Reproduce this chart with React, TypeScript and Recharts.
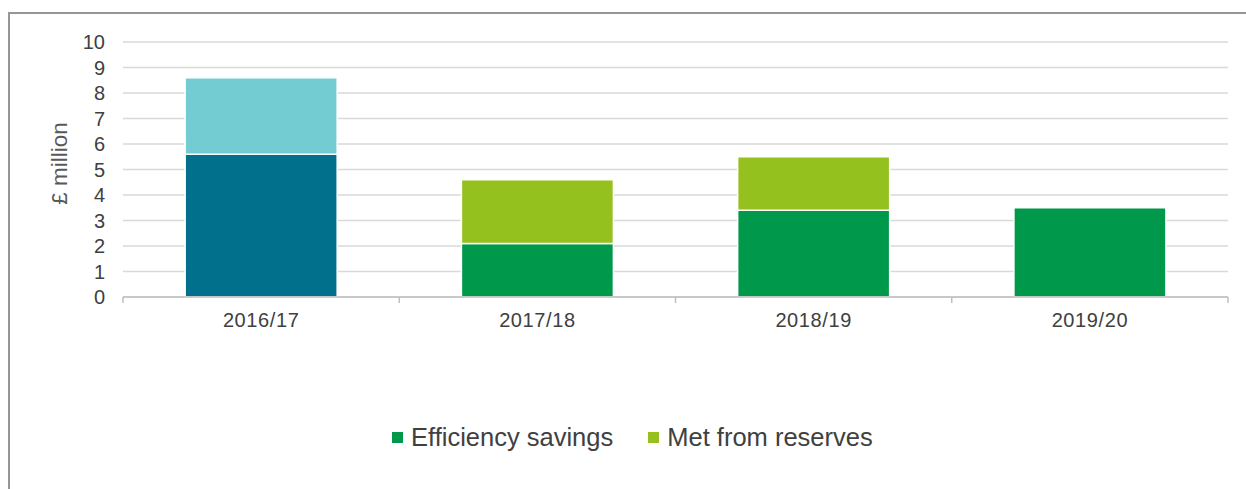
import React from 'react';
import { BarChart, Bar, XAxis, YAxis, CartesianGrid, Legend, Cell } from 'recharts';

const years = ['2016/17', '2017/18', '2018/19', '2019/20'];
const efficiencySavings = [5.6, 2.1, 3.4, 3.5];
const metFromReserves = [3.0, 2.5, 2.1, 0];
const yTicks = [0, 1, 2, 3, 4, 5, 6, 7, 8, 9, 10];

// first year is drawn in teal shades, the rest in the legend greens
const efficiencyColors = ['#00708C', '#00984A', '#00984A', '#00984A'];
const reservesColors = ['#74CCD3', '#95C11F', '#95C11F', '#95C11F'];

const data = years.map((year, i) => ({
  year,
  efficiency: efficiencySavings[i],
  reserves: metFromReserves[i],
}));

const FONT = '"Liberation Sans", Arial, sans-serif';

function CategoryTick(props: any) {
  const { x, y, payload, index, width } = props;
  const band = width / years.length;
  const axisY = y - 16;
  return (
    <g>
      <line x1={x - band / 2} y1={axisY} x2={x - band / 2} y2={axisY + 6} stroke="#bfbfbf" strokeWidth={1.5} />
      {index === years.length - 1 && (
        <line x1={x + band / 2} y1={axisY} x2={x + band / 2} y2={axisY + 6} stroke="#bfbfbf" strokeWidth={1.5} />
      )}
      <text x={x} y={y} dy="0.71em" textAnchor="middle" fill="#404040" fontSize={20} letterSpacing={0.6} fontFamily={FONT}>
        {payload.value}
      </text>
    </g>
  );
}

function renderLegend(props: any) {
  const { payload } = props;
  return (
    <div style={{ display: 'flex', alignItems: 'center', fontFamily: FONT, fontSize: 25.5, color: '#404040' }}>
      {payload.map((entry: any, i: number) => (
        <div key={i} style={{ display: 'flex', alignItems: 'center', marginRight: i === 0 ? 35 : 0 }}>
          <span style={{ display: 'inline-block', width: 11, height: 11, background: entry.color, marginRight: 8 }} />
          <span>{entry.value}</span>
        </div>
      ))}
    </div>
  );
}

export default function App() {
  return (
    <div style={{ position: 'fixed', left: 0, top: 0, width: 1246, height: 489, overflow: 'hidden', background: '#fff' }}>
      <div
        style={{
          position: 'absolute',
          left: 8,
          top: 12,
          width: 2000,
          height: 1000,
          borderTop: '2px solid #969696',
          borderLeft: '2px solid #969696',
        }}
      />
      <div style={{ position: 'absolute', left: 0, top: 0 }}>
        <BarChart
          width={1246}
          height={489}
          data={data}
          margin={{ top: 42, right: 18, left: 0, bottom: 133 }}
          barCategoryGap="22.5%"
        >
          <CartesianGrid vertical={false} stroke="#d9d9d9" strokeWidth={1.5} />
          <XAxis
            dataKey="year"
            axisLine={{ stroke: '#bfbfbf', strokeWidth: 1.5 }}
            tickLine={false}
            tickSize={6}
            tickMargin={10}
            tick={<CategoryTick />}
            interval={0}
          />
          <YAxis
            width={123}
            domain={[0, 10]}
            ticks={yTicks}
            interval={0}
            axisLine={false}
            tickLine={false}
            tickSize={0}
            tickMargin={18}
            tick={{ fill: '#404040', fontSize: 20, fontFamily: FONT }}
            label={{
              value: '£ million',
              angle: -90,
              position: 'center',
              dx: -2,
              dy: -6,
              fill: '#595959',
              fontSize: 22.5,
              fontFamily: FONT,
            }}
          />
          <Legend
            content={renderLegend}
            wrapperStyle={{ left: 392, top: 423, width: 'auto' }}
          />
          <Bar dataKey="efficiency" name="Efficiency savings" stackId="a" fill="#00984A" stroke="#fff" strokeWidth={1.5} isAnimationActive={false}>
            {data.map((_, i) => (
              <Cell key={i} fill={efficiencyColors[i]} />
            ))}
          </Bar>
          <Bar dataKey="reserves" name="Met from reserves" stackId="a" fill="#95C11F" stroke="#fff" strokeWidth={1.5} isAnimationActive={false}>
            {data.map((_, i) => (
              <Cell key={i} fill={reservesColors[i]} />
            ))}
          </Bar>
        </BarChart>
      </div>
    </div>
  );
}
